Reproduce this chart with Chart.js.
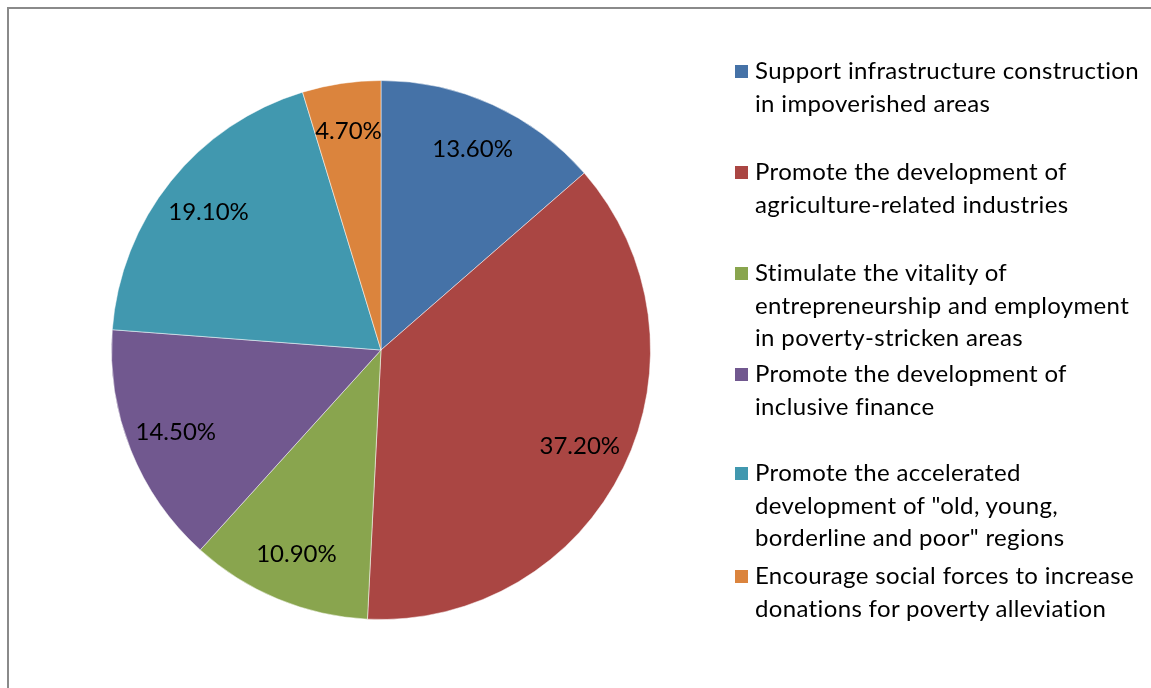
<!DOCTYPE html>
<html>
<head>
<meta charset="utf-8">
<script src="https://cdn.jsdelivr.net/npm/chart.js@4/dist/chart.umd.min.js"></script>
<style>
  html, body { margin: 0; padding: 0; background: #fff; overflow: hidden; }
  #wrap { position: relative; width: 1151px; height: 688px; }
  #frame {
    position: absolute; left: 7px; top: 7px; width: 1200px; height: 720px;
    border-top: 2px solid #8a8a8a; border-left: 2px solid #8a8a8a;
  }
  #chartPie { position: absolute; left: 0; top: 0; }
  #legenda { position: absolute; left: 735px; top: 0; width: 416px;
    font-family: Lato, "Open Sans", sans-serif; font-size: 24px; letter-spacing: 0.35px; color: #000; }
  .leg-item { position: absolute; left: 0; width: 416px; line-height: 32.5px; }
  .leg-box { position: absolute; left: 0; top: 11px; width: 13px; height: 13px; }
  .leg-texto { margin-left: 20px; white-space: nowrap; }
</style>
</head>
<body>
<div id="wrap">
  <div id="frame"></div>
  <canvas id="chartPie" width="1151" height="688"></canvas>
  <div id="legenda"></div>
</div>
<script>
/* global Chart */

// ================== DADOS ==================
const categorias = [
  ["Support infrastructure construction", "in impoverished areas"],
  ["Promote the development of", "agriculture-related industries"],
  ["Stimulate the vitality of", "entrepreneurship and employment", "in poverty-stricken areas"],
  ["Promote the development of", "inclusive finance"],
  ["Promote the accelerated", "development of \"old, young,", "borderline and poor\" regions"],
  ["Encourage social forces to increase", "donations for poverty alleviation"],
];
const valores = [13.6, 37.2, 10.9, 14.5, 19.1, 4.7];
const rotulos = ["13.60%", "37.20%", "10.90%", "14.50%", "19.10%", "4.70%"];
const cores = ["#4572a7", "#aa4643", "#89a54e", "#71588f", "#4198af", "#db843d"];

// posicoes verticais dos itens da legenda (layout)
const topoLegenda = [54, 155, 256, 357, 456, 559];

// ================== RÃ“TULOS NAS FATIAS ==================
const rotulosPlugin = {
  id: "rotulosFatia",
  afterDatasetsDraw(chart) {
    const c = chart.ctx;
    const meta = chart.getDatasetMeta(0);
    c.save();
    c.font = "24px Lato, 'Open Sans', sans-serif";
    c.fillStyle = "#000";
    c.textAlign = "center";
    c.textBaseline = "middle";
    meta.data.forEach((arc, i) => {
      const p = arc.getProps(["x", "y", "startAngle", "endAngle", "outerRadius"], true);
      const meio = (p.startAngle + p.endAngle) / 2;
      const r = p.outerRadius * 0.82;
      c.fillText(rotulos[i], p.x + Math.cos(meio) * r, p.y + Math.sin(meio) * r);
    });
    c.restore();
  },
};

// ================== GRÃFICO ==================
const ctx = document.getElementById("chartPie");

new Chart(ctx, {
  type: "pie",
  data: {
    labels: categorias.map((l) => l.join(" ")),
    datasets: [
      {
        data: valores,
        backgroundColor: cores,
        borderColor: "rgba(255,255,255,0.5)",
        borderWidth: 1,
      },
    ],
  },
  options: {
    responsive: false,
    animation: false,
    layout: { padding: { left: 111, right: 500, top: 80, bottom: 68 } },
    plugins: {
      legend: { display: false },
      tooltip: { enabled: false },
    },
  },
  plugins: [rotulosPlugin],
});

// ================== LEGENDA ==================
const legenda = document.getElementById("legenda");
categorias.forEach((linhas, i) => {
  const item = document.createElement("div");
  item.className = "leg-item";
  item.style.top = topoLegenda[i] + "px";

  const box = document.createElement("span");
  box.className = "leg-box";
  box.style.background = cores[i];

  const texto = document.createElement("div");
  texto.className = "leg-texto";
  linhas.forEach((l) => {
    const d = document.createElement("div");
    d.textContent = l;
    texto.appendChild(d);
  });

  item.appendChild(box);
  item.appendChild(texto);
  legenda.appendChild(item);
});
</script>
</body>
</html>
